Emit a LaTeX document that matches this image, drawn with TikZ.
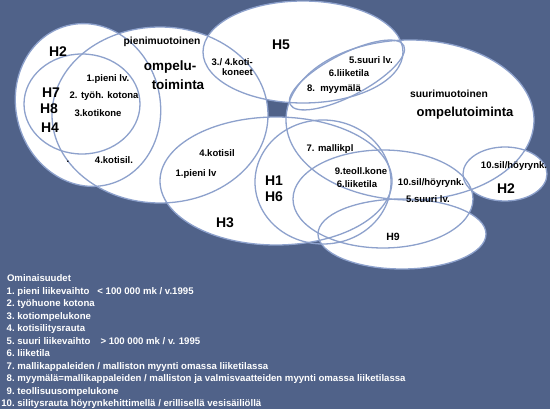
\documentclass[tikz,border=0pt]{standalone}
\usepackage{fontspec}
\setmainfont{Liberation Sans}
\usetikzlibrary{positioning}
\definecolor{sewbg}{HTML}{506289}
\definecolor{sewline}{HTML}{8DA1CC}

\begin{document}
\begin{tikzpicture}[x=1pt,y=-1pt,
    blob/.style={fill=white},
    ring/.style={draw=sewline, line width=1.3pt},
    feat/.style={font=\bfseries\fontsize{9.5}{10.5}\selectfont, inner sep=0pt},
    kind/.style={font=\bfseries\fontsize{13.5}{15}\selectfont, inner sep=0pt},
    sub/.style={font=\bfseries\fontsize{10.3}{11}\selectfont, inner sep=0pt},
    grp/.style={font=\bfseries\fontsize{14}{14}\selectfont, inner sep=0pt}]
  \fill[sewbg] (0,0) rectangle (550,409);
  \useasboundingbox (0,0) rectangle (550,409);

  % white areas first, all outlines afterwards
  \path[blob] (160,115) ellipse [x radius=108, y radius=88];
  \path[blob, rotate around={15:(88,105)}] (88,105) ellipse [x radius=72, y radius=82];
  \path[blob] (303,52) ellipse [x radius=100, y radius=51];
  \path[blob] (410,120) ellipse [x radius=124, y radius=80];
  \path[blob] (276,181) ellipse [x radius=116, y radius=64];
  \path[blob] (383,199) ellipse [x radius=90, y radius=49];
  \path[blob] (402,234) ellipse [x radius=84, y radius=35];
  \path[blob] (505,174) ellipse [x radius=42, y radius=27];

  \draw[ring] (160,115) ellipse [x radius=108, y radius=88];
  \draw[ring, rotate around={15:(88,105)}] (88,105) ellipse [x radius=72, y radius=82];
  \draw[ring] (82,104) ellipse [x radius=58, y radius=50];
  \draw[ring] (303,52) ellipse [x radius=100, y radius=51];
  \draw[ring, rotate around={27.5:(347,75)}] (347,75) ellipse [x radius=64, y radius=21];
  \draw[ring] (410,120) ellipse [x radius=124, y radius=80];
  \draw[ring] (276,181) ellipse [x radius=116, y radius=64];
  \draw[ring] (323,182) ellipse [x radius=68, y radius=62];
  \draw[ring] (383,199) ellipse [x radius=90, y radius=49];
  \draw[ring] (402,234) ellipse [x radius=84, y radius=35];
  \draw[ring] (505,174) ellipse [x radius=42, y radius=27];

  % small-scale side
  \node[grp] (h2a) at (58,52) {H2};
  \node[sub] (pien) at (162,42) {pienimuotoinen};
  \node[kind] (omp1) at (170,67) {ompelu-};
  \node[kind] (omp2) at (178,85) {toiminta};
  \node[feat] (f1a) at (108,79) {1.pieni lv.};
  \node[feat] (f2a) at (104,96) {2. työh. kotona};
  \node[feat] (f3a) at (98,113) {3.kotikone};
  \node[grp] (h7) at (51,93) {H7};
  \node[grp] (h8) at (49,109) {H8};
  \node[grp] (h4) at (50,128) {H4};
  \node[feat] (dot) at (68,162) {.};
  \node[feat] (f4a) at (114,160) {4.kotisil.};
  \node[feat, align=right, anchor=east] (f34) at (253,67) {3./ 4.koti-\\koneet};

  % H5
  \node[grp] (h5) at (281,45) {H5};
  \node[feat] (f5a) at (371,60) {5.suuri lv.};
  \node[feat] (f6a) at (349,73) {6.liiketila};
  \node[feat] (f8) at (334,89) {8.\ \ myymälä};

  % large-scale side
  \node[sub] (suuri) at (449,94) {suurimuotoinen};
  \node[kind, font=\bfseries\fontsize{13}{15}\selectfont] (omp3) at (465,113) {ompelutoiminta};

  % lower middle
  \node[feat] (f4b) at (217,153) {4.kotisil};
  \node[feat] (f1b) at (196,174) {1.pieni lv};
  \node[grp] (h1) at (274,181) {H1};
  \node[grp] (h6) at (274,197) {H6};
  \node[grp] (h3) at (225,223) {H3};
  \node[feat] (f7) at (330,149) {7. mallikpl};
  \node[feat] (f9) at (361,171) {9.teoll.kone};
  \node[feat] (f6b) at (357,184) {6.liiketila};
  \node[feat, font=\bfseries\fontsize{10.5}{11}\selectfont] (h9) at (393,237) {H9};
  \node[feat] (f10a) at (431,183) {10.sil/höyrynk.};
  \node[feat] (f5b) at (428,199) {5.suuri lv.};
  \node[feat] (f10b) at (514,166) {10.sil/höyrynk.};
  \node[grp] (h2b) at (506,189) {H2};

  % legend
  \node[anchor=north west, inner sep=0pt, text=white,
        font=\bfseries\fontsize{9.6}{12.5}\selectfont] (props) at (1.2,272.7) {%
    \begin{tabular}{@{}r@{\ }l@{}}
      \multicolumn{2}{@{}l@{}}{\hspace{5.6pt}Ominaisuudet}\\
      1. & pieni liikevaihto\hspace{8pt}< 100 000 mk / v.1995\\
      2. & työhuone kotona\\
      3. & kotiompelukone\\
      4. & kotisilitysrauta\\
      5. & suuri liikevaihto\hspace{10pt}> 100 000 mk / v. 1995\\
      6. & liiketila\\
      7. & mallikappaleiden / malliston myynti omassa liiketilassa\\
      8. & myymälä=mallikappaleiden / malliston ja valmisvaatteiden myynti omassa liiketilassa\\
      9. & teollisuusompelukone\\
      10. & silitysrauta höyrynkehittimellä / erillisellä vesisäiliöllä
    \end{tabular}};
\end{tikzpicture}
\end{document}
